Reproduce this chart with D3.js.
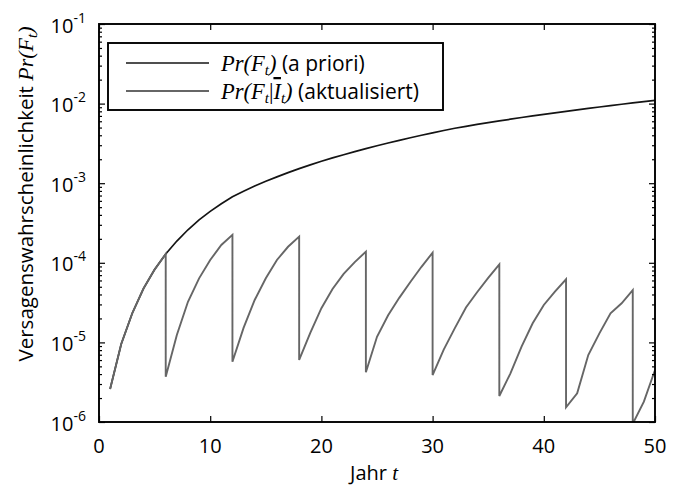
<!DOCTYPE html>
<html>
<head>
<meta charset="utf-8">
<script src="https://cdn.jsdelivr.net/npm/d3@7"></script>
<style>
  html, body { margin: 0; padding: 0; background: #fff; }
  svg { display: block; }
</style>
</head>
<body>
<svg id="chart" width="677" height="486"></svg>
<script>
// Years of operation
const years = [1, 2, 3, 4, 5, 6, 7, 8, 9, 10,
  11, 12, 13, 14, 15, 16, 17, 18, 19, 20,
  21, 22, 23, 24, 25, 26, 27, 28, 29, 30,
  31, 32, 33, 34, 35, 36, 37, 38, 39, 40,
  41, 42, 43, 44, 45, 46, 47, 48, 49, 50];

// Prior failure probability Pr(F_t)
const aprioriValues = [2.60e-6, 9.55e-6, 2.34e-5, 4.75e-5, 8.22e-5, 1.29e-4, 1.875e-4, 2.60e-4, 3.47e-4, 4.43e-4,
  5.52e-4, 6.76e-4, 7.94e-4, 9.20e-4, 1.057e-3, 1.202e-3, 1.358e-3, 1.524e-3, 1.698e-3, 1.884e-3,
  2.080e-3, 2.280e-3, 2.495e-3, 2.716e-3, 2.951e-3, 3.199e-3, 3.459e-3, 3.724e-3, 3.999e-3, 4.285e-3,
  4.592e-3, 4.898e-3, 5.176e-3, 5.470e-3, 5.754e-3, 6.053e-3, 6.368e-3, 6.683e-3, 6.998e-3, 7.328e-3,
  7.656e-3, 7.998e-3, 8.356e-3, 8.710e-3, 9.057e-3, 9.441e-3, 9.817e-3, 1.019e-2, 1.057e-2, 1.096e-2];

// Updated probability after inspections without findings (inspection years appear twice: before / after)
const updatedYears = [1, 2, 3, 4, 5, 6,
  6, 7, 8, 9, 10, 11, 12,
  12, 13, 14, 15, 16, 17, 18,
  18, 19, 20, 21, 22, 23, 24,
  24, 25, 26, 27, 28, 29, 30,
  30, 31, 32, 33, 34, 35, 36,
  36, 37, 38, 39, 40, 41, 42,
  42, 43, 44, 45, 46, 47, 48,
  48, 49, 50];
const updatedValues = [2.60e-6, 9.55e-6, 2.34e-5, 4.75e-5, 8.22e-5, 1.29e-4,
  3.70e-6, 1.24e-5, 3.24e-5, 6.38e-5, 1.084e-4, 1.675e-4, 2.24e-4,
  5.71e-6, 1.52e-5, 3.41e-5, 6.38e-5, 1.084e-4, 1.59e-4, 2.13e-4,
  6.03e-6, 1.32e-5, 2.69e-5, 4.68e-5, 7.24e-5, 1.02e-4, 1.38e-4,
  4.21e-6, 1.175e-5, 2.19e-5, 3.63e-5, 5.75e-5, 8.91e-5, 1.34e-4,
  3.89e-6, 8.13e-6, 1.51e-5, 2.75e-5, 4.27e-5, 6.46e-5, 9.57e-5,
  2.12e-6, 4.09e-6, 8.83e-6, 1.74e-5, 2.95e-5, 4.34e-5, 6.21e-5,
  1.53e-6, 2.29e-6, 6.95e-6, 1.30e-5, 2.32e-5, 3.10e-5, 4.55e-5,
  9.5e-7, 1.8e-6, 4.5e-6];

// Axis ticks
const xTicks = [0, 10, 20, 30, 40, 50];
const yDecades = [1e-6, 1e-5, 1e-4, 1e-3, 1e-2, 1e-1];
const yExponents = ["-6", "-5", "-4", "-3", "-2", "-1"];
const minorMultipliers = [2, 3, 4, 5, 6, 7, 8, 9];

// Texts
const xTitle = "Jahr ";
const xTitleVar = "t";
const yTitle = "Versagenswahrscheinlichkeit ";
const legendLabels = ["(a priori)", "(aktualisiert)"];

const W = 677, H = 486;
const margin = { top: 24, right: 22, bottom: 64, left: 99 };
const sans = "'Open Sans', 'Noto Sans', sans-serif";
const serif = "'Liberation Serif', 'DejaVu Serif', serif";
const ink = "#000";

const svg = d3.select("#chart");

const x = d3.scaleLinear().domain([0, 50]).range([margin.left, W - margin.right]);
const y = d3.scaleLog().domain([1e-6, 1e-1]).range([H - margin.bottom, margin.top]);

const [x0, x1] = x.range();
const [yBottom, yTop] = y.range();

svg.append("defs").append("clipPath").attr("id", "plotArea")
  .append("rect")
  .attr("x", x0).attr("y", yTop)
  .attr("width", x1 - x0).attr("height", yBottom - yTop);

// Lines
const line = d3.line().x(d => x(d[0])).y(d => y(d[1]));
const plot = svg.append("g").attr("clip-path", "url(#plotArea)");

plot.append("path")
  .datum(years.map((t, i) => [t, aprioriValues[i]]))
  .attr("d", line)
  .attr("fill", "none")
  .attr("stroke", "#141414")
  .attr("stroke-width", 1.7);

plot.append("path")
  .datum(updatedYears.map((t, i) => [t, updatedValues[i]]))
  .attr("d", line)
  .attr("fill", "none")
  .attr("stroke", "#666")
  .attr("stroke-width", 1.9);

// Axes with inward ticks on all four sides
const minorTicks = [];
yDecades.slice(0, -1).forEach(d => minorMultipliers.forEach(m => minorTicks.push(d * m)));

function drawAxis(axis, transform) {
  const g = svg.append("g").attr("transform", transform).call(axis);
  g.select(".domain").remove();
  g.selectAll(".tick line").attr("stroke", ink).attr("stroke-width", 1.2);
  return g;
}
drawAxis(d3.axisBottom(x).tickValues(xTicks).tickSize(-6).tickFormat(""), `translate(0,${yBottom})`);
drawAxis(d3.axisTop(x).tickValues(xTicks).tickSize(-6).tickFormat(""), `translate(0,${yTop})`);
drawAxis(d3.axisLeft(y).tickValues(yDecades).tickSize(-6).tickFormat(""), `translate(${x0},0)`);
drawAxis(d3.axisLeft(y).tickValues(minorTicks).tickSize(-3).tickFormat(""), `translate(${x0},0)`);
drawAxis(d3.axisRight(y).tickValues(yDecades).tickSize(-6).tickFormat(""), `translate(${x1},0)`);
drawAxis(d3.axisRight(y).tickValues(minorTicks).tickSize(-3).tickFormat(""), `translate(${x1},0)`);

svg.append("rect")
  .attr("x", x0).attr("y", yTop)
  .attr("width", x1 - x0).attr("height", yBottom - yTop)
  .attr("fill", "none").attr("stroke", ink).attr("stroke-width", 1.9);

// X tick labels
svg.append("g").selectAll("text").data(xTicks).join("text")
  .attr("x", d => x(d)).attr("y", yBottom + 31)
  .attr("text-anchor", "middle")
  .attr("font-family", sans).attr("font-size", 20).attr("fill", ink)
  .text(d => d);

// Y tick labels 10^n
const yl = svg.append("g").selectAll("text").data(yDecades).join("text")
  .attr("x", x0 - 13).attr("y", d => y(d) + 8.5)
  .attr("text-anchor", "end")
  .attr("font-family", sans).attr("font-size", 20).attr("fill", ink);
yl.append("tspan").text("10");
yl.append("tspan").attr("dy", -10).attr("font-size", 14).text((d, i) => yExponents[i]);

// X title
const xt = svg.append("text")
  .attr("x", (x0 + x1) / 2 - 3).attr("y", 480)
  .attr("text-anchor", "middle")
  .attr("font-family", sans).attr("font-size", 20).attr("fill", ink);
xt.append("tspan").text(xTitle);
xt.append("tspan").attr("font-family", serif).attr("font-style", "italic").attr("font-size", 21).text(xTitleVar);

// Y title
const yt = svg.append("text")
  .attr("transform", `translate(33,194) rotate(-90)`)
  .attr("text-anchor", "middle")
  .attr("font-family", sans).attr("font-size", 20.5).attr("fill", ink);
yt.append("tspan").text(yTitle);
yt.append("tspan").attr("font-family", serif).attr("font-style", "italic").attr("font-size", 22).text("Pr(F");
yt.append("tspan").attr("font-family", serif).attr("font-style", "italic").attr("font-size", 15).attr("dy", 4).text("t");
yt.append("tspan").attr("font-family", serif).attr("font-style", "italic").attr("font-size", 22).attr("dy", -4).text(")");

// Legend
const lg = svg.append("g");
lg.append("rect")
  .attr("x", 108).attr("y", 43).attr("width", 335).attr("height", 67)
  .attr("fill", "#fff").attr("stroke", ink).attr("stroke-width", 1.9);

const legendStroke = [["#141414", 1.7], ["#666", 1.9]];
const rowY = [63, 91];
legendLabels.forEach((lab, i) => {
  lg.append("line")
    .attr("x1", 126).attr("x2", 209).attr("y1", rowY[i]).attr("y2", rowY[i])
    .attr("stroke", legendStroke[i][0]).attr("stroke-width", legendStroke[i][1]);
  const t = lg.append("text")
    .attr("x", 221).attr("y", rowY[i] + 8)
    .attr("font-family", serif).attr("font-style", "italic").attr("font-size", 22.5).attr("fill", ink);
  t.append("tspan").text("Pr(F");
  t.append("tspan").attr("font-size", 15).attr("dy", 4).text("t");
  if (i === 1) {
    t.append("tspan").attr("dy", -4).attr("font-style", "normal").text("|");
    t.append("tspan").attr("text-decoration", "overline").text("I");
    t.append("tspan").attr("font-size", 15).attr("dy", 4).text("t");
  }
  t.append("tspan").attr("dy", -4).text(")");
  t.append("tspan").attr("font-family", sans).attr("font-style", "normal").attr("font-size", 21).text(" " + lab);
});
</script>
</body>
</html>
